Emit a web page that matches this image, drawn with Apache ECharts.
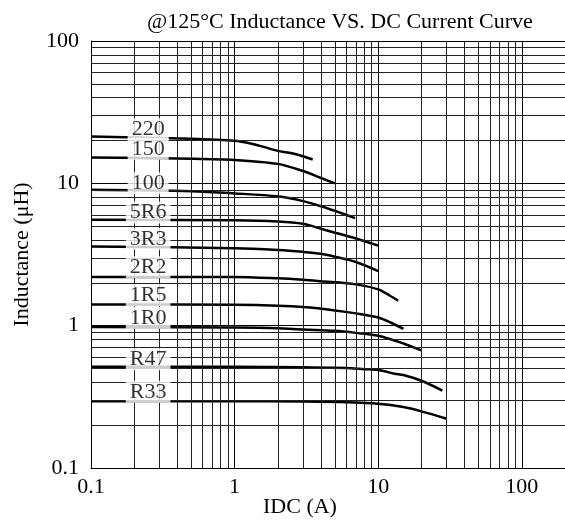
<!DOCTYPE html>
<html>
<head>
<meta charset="utf-8">
<title>Inductance vs DC current</title>
<script src="https://cdn.jsdelivr.net/npm/echarts@6/dist/echarts.min.js"></script>
<style>
  html, body { margin: 0; padding: 0; background: #fff; }
  #chart { width: 565px; height: 525px; }
</style>
</head>
<body>
<div id="chart"></div>
<script>
  var FONT = '"Liberation Serif", "DejaVu Serif", serif';

  // curves: [IDC (A), inductance (uH)]
  var curve220 = [[0.1, 21.3], [0.5, 20.6], [1, 19.9], [1.34, 18.9], [1.57, 18.1], [2, 16.9], [2.4, 16.4], [2.8, 15.8], [3.5, 14.7]];
  var curve150 = [[0.1, 15.2], [0.5, 14.9], [1, 14.6], [2, 13.7], [3, 12.2], [4, 10.9], [5, 10.0]];
  var curve100 = [[0.1, 9.0], [0.5, 8.8], [1, 8.5], [2, 8.1], [3, 7.5], [4, 6.9], [5, 6.4], [6.9, 5.7]];
  var curve5R6 = [[0.1, 5.55], [1, 5.5], [2, 5.4], [3, 5.2], [4, 4.8], [5, 4.5], [7, 4.1], [10, 3.65]];
  var curve3R3 = [[0.1, 3.6], [1, 3.5], [2, 3.4], [3, 3.3], [4, 3.2], [5, 3.05], [7, 2.8], [10, 2.42]];
  var curve2R2 = [[0.1, 2.2], [1, 2.2], [2, 2.15], [3, 2.1], [4, 2.05], [7, 1.95], [10, 1.8], [12, 1.63], [13.8, 1.5]];
  var curve1R5 = [[0.1, 1.41], [1, 1.4], [2, 1.38], [3, 1.35], [5, 1.28], [7, 1.22], [10, 1.14], [12.5, 1.04], [15, 0.95]];
  var curve1R0 = [[0.1, 0.98], [1, 0.97], [2, 0.96], [3, 0.94], [5, 0.92], [7, 0.89], [10, 0.85], [15, 0.75], [20, 0.67]];
  var curveR47 = [[0.1, 0.515], [1, 0.515], [3, 0.51], [6, 0.505], [8, 0.495], [10, 0.488], [13, 0.46], [15, 0.45], [20, 0.41], [28, 0.35]];
  var curveR33 = [[0.1, 0.295], [1, 0.295], [3, 0.293], [6, 0.29], [10, 0.283], [15, 0.268], [20, 0.25], [30, 0.222]];

  var curves = [curve220, curve150, curve100, curve5R6, curve3R3, curve2R2, curve1R5, curve1R0, curveR47, curveR33];
  var curveNames = ['220', '150', '100', '5R6', '3R3', '2R2', '1R5', '1R0', 'R47', 'R33'];
  var labelX = 0.25;
  var labelY = [24.0, 17.5, 10.0, 6.25, 4.06, 2.57, 1.64, 1.137, 0.58, 0.343];

  // minor grid: 2..9 in every decade
  var xDecades = [0.1, 1, 10];
  var yDecades = [0.1, 1, 10];
  var minorSteps = [2, 3, 4, 5, 6, 7, 8, 9];

  function minorValues(decades) {
    var out = [];
    decades.forEach(function (d) {
      minorSteps.forEach(function (m) {
        out.push(+(d * m).toPrecision(3));
      });
    });
    return out;
  }

  var gridLines = minorValues(xDecades).map(function (v) { return { xAxis: v }; })
    .concat(minorValues(yDecades).map(function (v) { return { yAxis: v }; }));

  var series = [{
    type: 'line',
    data: [],
    z: 1,
    silent: true,
    markLine: {
      silent: true,
      symbol: ['none', 'none'],
      animation: false,
      label: { show: false },
      lineStyle: { type: 'solid', color: '#222', width: 1 },
      data: gridLines
    }
  }];

  curves.forEach(function (c, i) {
    series.push({
      name: curveNames[i],
      type: 'line',
      data: c,
      z: 3,
      smooth: 0.3,
      symbol: 'none',
      lineStyle: { color: '#000', width: 2.5 }
    });
  });

  series.push({
    type: 'scatter',
    z: 5,
    symbolSize: 0,
    silent: true,
    data: labelY.map(function (y, i) { return [labelX, y, curveNames[i]]; }),
    label: {
      show: true,
      position: 'inside',
      formatter: function (p) { return p.value[2]; },
      color: '#000',
      fontFamily: FONT,
      fontSize: 22,
      lineHeight: 22,
      backgroundColor: '#fff',
      padding: [0, 4]
    }
  });

  var chart = echarts.init(document.getElementById('chart'), null, { renderer: 'canvas' });
  chart.setOption({
    animation: false,
    backgroundColor: '#fff',
    title: {
      text: '@125°C Inductance VS. DC Current Curve',
      left: 142,
      top: 6,
      textStyle: { fontFamily: FONT, fontWeight: 'normal', fontSize: 22, color: '#000' }
    },
    grid: { left: 91, right: -1, top: 41, bottom: 57 },
    xAxis: {
      type: 'log',
      logBase: 10,
      min: 0.1,
      max: 200,
      axisLine: { lineStyle: { color: '#000', width: 1 } },
      axisTick: { show: false },
      axisLabel: {
        margin: 8,
        color: '#000',
        fontFamily: FONT,
        fontSize: 22,
        showMaxLabel: false,
        formatter: function (v) { return v >= 150 ? '' : String(v); }
      },
      splitLine: { show: true, lineStyle: { color: '#000', width: 1 } }
    },
    yAxis: {
      type: 'log',
      logBase: 10,
      min: 0.1,
      max: 100,
      name: 'Inductance (μH)',
      nameLocation: 'middle',
      nameGap: 58,
      nameTextStyle: { fontFamily: FONT, fontSize: 22, color: '#000' },
      axisLine: { show: true, lineStyle: { color: '#000', width: 1 } },
      axisTick: { show: false },
      axisLabel: { margin: 12, color: '#000', fontFamily: FONT, fontSize: 22 },
      splitLine: { show: true, lineStyle: { color: '#000', width: 1 } }
    },
    graphic: [{
      type: 'text',
      left: 263,
      top: 496,
      style: { text: 'IDC (A)', fontFamily: FONT, fontSize: 22, fill: '#000' }
    }],
    series: series
  });
</script>
</body>
</html>
